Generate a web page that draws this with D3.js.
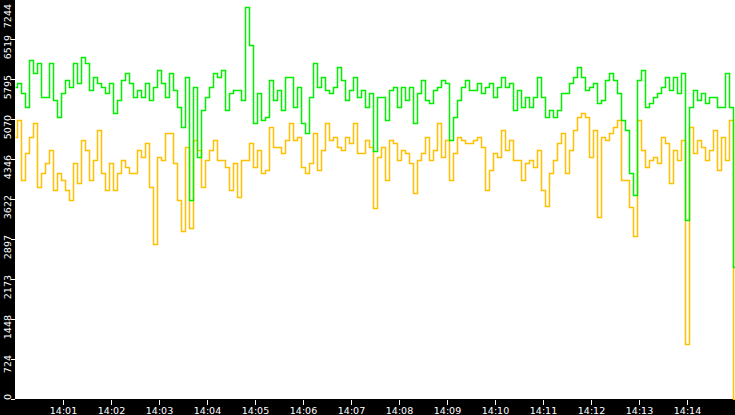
<!DOCTYPE html>
<html>
<head>
<meta charset="utf-8">
<script src="https://cdn.jsdelivr.net/npm/d3@7"></script>
<style>
  html, body { margin: 0; padding: 0; background: #000; }
  #chart { width: 735px; height: 415px; }
</style>
</head>
<body>
<div id="chart"></div>
<script>
// samples every 5 seconds, 14:00:00 .. 14:15:00
const startTime = '14:00:00';
const stepSeconds = 5;

const greenValues = [
  5650, 5723, 5542, 5288, 6139, 5904, 6085, 5469, 5469, 6085, 5415, 5107, 5542, 5777, 5650,
  6085, 5723, 6194, 6085, 5596, 5831, 5723, 5650, 5542, 5723, 5179, 5415, 5777, 5904, 5723,
  5469, 5596, 5469, 5723, 5415, 5650, 5958, 5723, 5469, 5904, 5596, 5288, 4926, 5831, 3604,
  5650, 4383, 5234, 5469, 5650, 5904, 5831, 5958, 5234, 5542, 5596, 5596, 5415, 7100, 6411,
  4998, 5542, 5053, 5107, 5777, 5415, 5596, 5234, 5831, 5831, 5288, 5650, 4998, 4817, 5469,
  6085, 5650, 5831, 5596, 5542, 5650, 6013, 5777, 5415, 5596, 5831, 5469, 5596, 5288, 5542,
  4500, 5469, 5469, 5053, 5596, 5650, 5288, 5650, 5415, 5650, 4998, 5542, 5777, 5415, 5361,
  5596, 5650, 5777, 5723, 4690, 5107, 5415, 5650, 5777, 5596, 5596, 5723, 5542, 5650, 5723,
  5469, 5650, 5831, 5650, 5723, 5234, 5596, 5288, 5469, 5288, 5469, 5831, 5469, 5107, 5234,
  5107, 5234, 5542, 5542, 5723, 5831, 6013, 5831, 5596, 5650, 5723, 5361, 5415, 5777, 5904,
  5777, 5542, 5053, 4872, 4093, 3700, 5777, 5958, 5288, 5361, 5469, 5542, 5650, 5831, 5596,
  5831, 5542, 5904, 3242, 5288, 5596, 5415, 5542, 5361, 5469, 5469, 5288, 5288, 5904, 5288,
  2391
];

const orangeValues = [
  4745, 5053, 3966, 4455, 4745, 4998, 3839, 4093, 4274, 4509, 3785, 4093, 3966, 3785, 3604,
  4274, 3912, 4690, 4509, 3966, 4328, 4872, 4093, 3785, 4274, 3785, 4093, 4328, 4202, 4093,
  4093, 4509, 4383, 4636, 3839, 2800, 4383, 4328, 4817, 4817, 4274, 3604, 3050, 4564, 3100,
  4690, 4509, 3839, 4328, 4509, 4690, 4328, 4328, 4202, 3785, 4274, 3658, 4328, 4328, 4636,
  4202, 4509, 4093, 4147, 4926, 4564, 4564, 4455, 4690, 4998, 4690, 4745, 4202, 4093, 4274,
  4817, 4147, 4509, 4998, 4690, 4745, 4564, 4509, 4745, 4636, 4998, 4455, 4455, 4690, 4564,
  3450, 4383, 4564, 3966, 4690, 4636, 4328, 4509, 4455, 4274, 3731, 4328, 4455, 4745, 4328,
  4509, 4998, 4383, 4690, 3966, 4455, 4745, 4690, 4636, 4636, 4690, 4745, 4564, 3785, 4147,
  4455, 4383, 4872, 4509, 4690, 4328, 4328, 3966, 4274, 4328, 4202, 4509, 3785, 3500, 4093,
  4328, 4636, 4817, 4093, 4509, 4872, 5107, 5179, 5107, 4383, 4872, 3300, 4745, 4690, 4817,
  4926, 5053, 3966, 3966, 3477, 2950, 5053, 4509, 4202, 4328, 4383, 4274, 4745, 4636, 3912,
  4509, 4328, 4690, 1000, 4926, 4455, 4690, 4564, 4328, 4509, 4872, 4147, 4745, 4328, 5053,
  0
];

const yTickLabels = ['0', '724', '1448', '2173', '2897', '3622', '4346', '5070', '5795', '6519', '7244'];
const xTickLabels = ['14:01', '14:02', '14:03', '14:04', '14:05', '14:06', '14:07',
  '14:08', '14:09', '14:10', '14:11', '14:12', '14:13', '14:14'];

const width = 735;
const height = 415;
const plot = { left: 15, right: 735, top: 0, bottom: 399 };
const fontFamily = '"DejaVu Sans", Verdana, sans-serif';

const parseTime = d3.timeParse('%H:%M:%S');
const parseTick = d3.timeParse('%H:%M');
const t0 = parseTime(startTime);
const times = greenValues.map((d, i) => d3.timeSecond.offset(t0, i * stepSeconds));

const x = d3.scaleTime()
  .domain([t0, times[times.length - 1]])
  .range([plot.left, plot.right]);

const y = d3.scaleLinear()
  .domain([0, +yTickLabels[yTickLabels.length - 1]])
  .range([plot.bottom, plot.top - 1]);

const svg = d3.select('#chart').append('svg')
  .attr('width', width)
  .attr('height', height)
  .style('display', 'block');

svg.append('rect')
  .attr('width', width)
  .attr('height', height)
  .attr('fill', '#000');

svg.append('rect')
  .attr('x', plot.left)
  .attr('y', plot.top)
  .attr('width', plot.right - plot.left)
  .attr('height', plot.bottom - plot.top)
  .attr('fill', '#fff');

const clip = svg.append('defs').append('clipPath').attr('id', 'plot-clip');
clip.append('rect')
  .attr('x', plot.left)
  .attr('y', plot.top)
  .attr('width', plot.right - plot.left)
  .attr('height', plot.bottom - plot.top + 1);

const line = d3.line()
  .x((d, i) => Math.round(x(times[i])) + 0.5)
  .y(d => Math.round(y(d)) + 0.5)
  .curve(d3.curveStep);

const lines = svg.append('g').attr('clip-path', 'url(#plot-clip)');

lines.append('path')
  .datum(orangeValues)
  .attr('d', line)
  .attr('fill', 'none')
  .attr('stroke', '#ffc000')
  .attr('stroke-width', 1.5);

lines.append('path')
  .datum(greenValues)
  .attr('d', line)
  .attr('fill', 'none')
  .attr('stroke', '#00f000')
  .attr('stroke-width', 1.5);

// y axis (rotated labels in the black strip)
const yAxis = svg.append('g');
yTickLabels.forEach(label => {
  const ty = Math.round(y(+label));
  yAxis.append('line')
    .attr('x1', 11).attr('x2', plot.left)
    .attr('y1', ty + 0.5).attr('y2', ty + 0.5)
    .attr('stroke', '#fff')
    .attr('stroke-width', 1);
  const textW = label.length * 6;
  let top = ty - 4;
  if (top < 4) top = 4;
  if (top + textW > plot.bottom + 1) top = plot.bottom + 1 - textW;
  yAxis.append('text')
    .attr('transform', `translate(10.5,${top}) rotate(-90)`)
    .attr('text-anchor', 'end')
    .attr('fill', '#fff')
    .attr('font-family', fontFamily)
    .attr('font-size', '9.5px')
    .text(label);
});

// x axis
const xAxis = svg.append('g');
xTickLabels.forEach(label => {
  const tx = Math.round(x(parseTick(label)));
  xAxis.append('line')
    .attr('x1', tx + 0.5).attr('x2', tx + 0.5)
    .attr('y1', plot.bottom + 1).attr('y2', plot.bottom + 6)
    .attr('stroke', '#fff')
    .attr('stroke-width', 1);
  xAxis.append('text')
    .attr('x', tx + 0.5)
    .attr('y', 414)
    .attr('text-anchor', 'middle')
    .attr('fill', '#fff')
    .attr('font-family', fontFamily)
    .attr('font-size', '9.5px')
    .text(label);
});
</script>
</body>
</html>
